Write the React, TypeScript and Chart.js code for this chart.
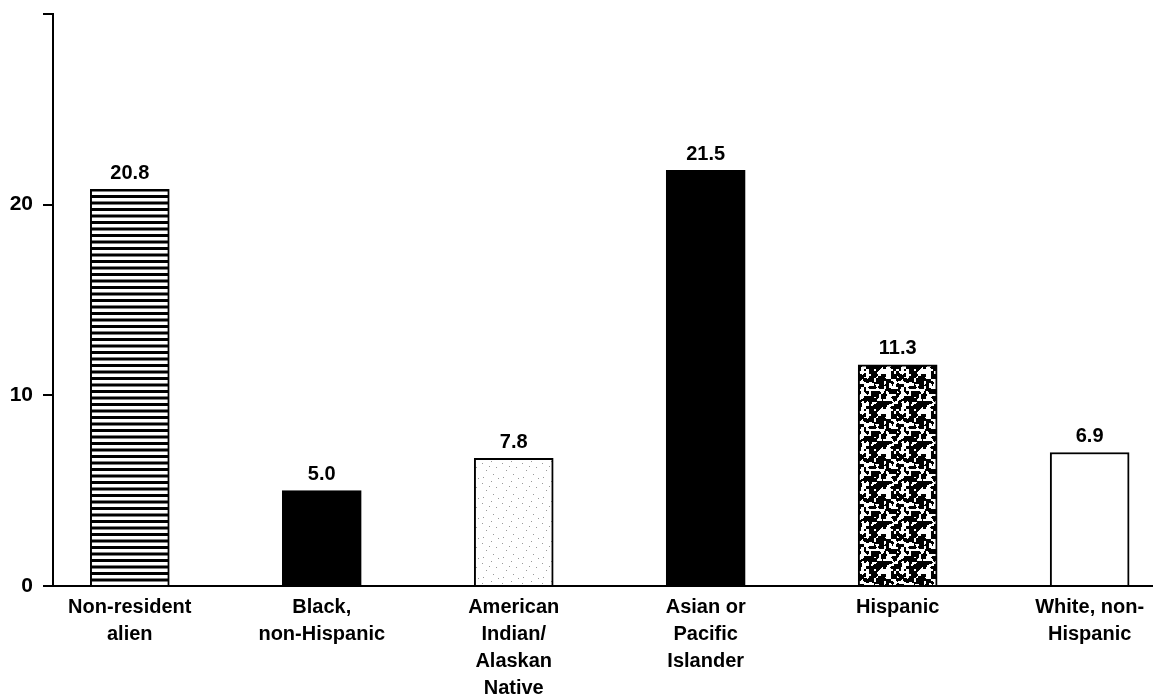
import React, { useEffect, useRef } from "react";
import { Chart, registerables } from "chart.js";

Chart.register(...registerables);

// Categories as printed under the bars (one entry per line)
const categoryLines: string[][] = [
  ["Non-resident", "alien"],
  ["Black,", "non-Hispanic"],
  ["American", "Indian/", "Alaskan", "Native"],
  ["Asian or", "Pacific", "Islander"],
  ["Hispanic"],
  ["White, non-", "Hispanic"],
];

// Bar heights as drawn in the picture
const barHeights: number[] = [20.8, 5.0, 6.7, 21.8, 11.6, 7.0];

// Value labels printed above the bars
const printedValues: string[] = ["20.8", "5.0", "7.8", "21.5", "11.3", "6.9"];

// Y axis ticks
const yTicks: number[] = [0, 10, 20, 30];
const yTickLabels: string[] = ["0", "10", "20", ""];

const FONT = "'Liberation Sans', Arial, Helvetica, sans-serif";

function makeTile(w: number, h: number, draw: (ctx: CanvasRenderingContext2D) => void): HTMLCanvasElement {
  const c = document.createElement("canvas");
  c.width = w;
  c.height = h;
  const ctx = c.getContext("2d")!;
  draw(ctx);
  return c;
}

function stripesPattern(ctx: CanvasRenderingContext2D): CanvasPattern {
  const tile = makeTile(8, 13, (t) => {
    t.fillStyle = "#ffffff";
    t.fillRect(0, 0, 8, 13);
    t.fillStyle = "#000000";
    t.fillRect(0, 0, 8, 3);
    t.fillRect(0, 6.5, 8, 3);
  });
  return ctx.createPattern(tile, "repeat")!;
}

function dotsPattern(ctx: CanvasRenderingContext2D): CanvasPattern {
  const tile = makeTile(20, 20, (t) => {
    t.fillStyle = "#ffffff";
    t.fillRect(0, 0, 20, 20);
    t.fillStyle = "#9a9a9a";
    const pts = [[2, 3], [11, 1], [16, 7], [6, 10], [13, 14], [3, 17], [18, 18], [9, 6]];
    pts.forEach(([x, y]) => t.fillRect(x, y, 1, 1));
  });
  return ctx.createPattern(tile, "repeat")!;
}

// deterministic integer hash -> [0,1)
function hash2(ix: number, iy: number): number {
  let h = (ix * 374761393 + iy * 668265263) | 0;
  h = (h ^ (h >>> 13)) | 0;
  h = Math.imul(h, 1274126177);
  h = h ^ (h >>> 16);
  return (h >>> 0) / 4294967296;
}

function specklePattern(ctx: CanvasRenderingContext2D): CanvasPattern {
  const size = 40;
  const cell = 2.5;
  const n = Math.round(size / cell);
  const grid = (gx: number, gy: number) => hash2(((gx % n) + n) % n, ((gy % n) + n) % n);
  const tile = makeTile(size, size, (t) => {
    const img = t.createImageData(size, size);
    for (let y = 0; y < size; y++) {
      for (let x = 0; x < size; x++) {
        const fx = (x + 0.5) / cell;
        const fy = (y + 0.5) / cell;
        const x0 = Math.floor(fx);
        const y0 = Math.floor(fy);
        const tx = fx - x0;
        const ty = fy - y0;
        const sx = tx * tx * (3 - 2 * tx);
        const sy = ty * ty * (3 - 2 * ty);
        const a = grid(x0, y0);
        const b = grid(x0 + 1, y0);
        const c2 = grid(x0, y0 + 1);
        const d = grid(x0 + 1, y0 + 1);
        const v = (a * (1 - sx) + b * sx) * (1 - sy) + (c2 * (1 - sx) + d * sx) * sy;
        const black = v > 0.4;
        const i = (y * size + x) * 4;
        const c = black ? 0 : 255;
        img.data[i] = c;
        img.data[i + 1] = c;
        img.data[i + 2] = c;
        img.data[i + 3] = 255;
      }
    }
    t.putImageData(img, 0, 0);
  });
  return ctx.createPattern(tile, "repeat")!;
}

const valueLabelPlugin = {
  id: "valueLabels",
  afterDatasetsDraw(chart: any) {
    const ctx = chart.ctx as CanvasRenderingContext2D;
    const meta = chart.getDatasetMeta(0);
    ctx.save();
    ctx.fillStyle = "#000";
    ctx.font = `bold 20px ${FONT}`;
    ctx.textAlign = "center";
    ctx.textBaseline = "middle";
    meta.data.forEach((el: any, i: number) => {
      ctx.fillText(printedValues[i], el.x, el.y - 16);
    });
    ctx.restore();
  },
};

export default function App() {
  const ref = useRef<HTMLCanvasElement>(null);

  useEffect(() => {
    document.body.style.margin = "0";
    const canvas = ref.current!;
    const ctx = canvas.getContext("2d")!;
    const fills: (string | CanvasPattern)[] = [
      stripesPattern(ctx),
      "#000000",
      dotsPattern(ctx),
      "#000000",
      specklePattern(ctx),
      "#ffffff",
    ];
    const chart = new Chart(canvas, {
      type: "bar",
      data: {
        datasets: [
          {
            data: barHeights.map((h, i) => ({ x: i, y: h })),
            backgroundColor: fills as any,
            borderColor: "#000000",
            borderWidth: 2,
            barThickness: 79,
          } as any,
        ],
      },
      options: {
        animation: false,
        responsive: false,
        devicePixelRatio: 1,
        layout: { padding: { top: 14, right: 0, left: 0, bottom: 0 } },
        plugins: { legend: { display: false }, tooltip: { enabled: false } },
        scales: {
          x: {
            type: "linear",
            min: -0.4,
            max: 5.33,
            offset: false,
            grid: { display: false, drawTicks: false, offset: false },
            border: { display: true, color: "#000", width: 2 },
            ticks: {
              stepSize: 1,
              includeBounds: false,
              autoSkip: false,
              maxRotation: 0,
              minRotation: 0,
              padding: 8,
              color: "#000",
              font: { family: FONT, size: 20, weight: "bold", lineHeight: 1.35 },
              callback: (v: any) => {
                const n = Number(v);
                return Number.isInteger(n) && categoryLines[n] ? categoryLines[n] : "";
              },
            },
            afterFit: (scale: any) => {
              scale.height = 110;
              scale.paddingLeft = 0;
              scale.paddingRight = 0;
            },
          } as any,
          y: {
            type: "linear",
            min: yTicks[0],
            max: yTicks[yTicks.length - 1],
            grid: {
              display: true,
              drawOnChartArea: false,
              drawTicks: true,
              tickLength: 10,
              color: "#000",
              lineWidth: 2,
            },
            border: { display: true, color: "#000", width: 2 },
            ticks: {
              stepSize: 10,
              padding: 10,
              color: "#000",
              font: { family: FONT, size: 21, weight: "bold" },
              callback: (v: any) => {
                const idx = yTicks.indexOf(Number(v));
                return idx >= 0 ? yTickLabels[idx] : "";
              },
            },
            afterFit: (scale: any) => {
              scale.width = 53;
              scale.paddingTop = 0;
              scale.paddingBottom = 0;
            },
          } as any,
        },
      },
      plugins: [valueLabelPlugin],
    });
    return () => chart.destroy();
  }, []);

  return (
    <div style={{ width: 1153, height: 696, background: "#fff" }}>
      <canvas ref={ref} width={1153} height={696} style={{ width: 1153, height: 696, display: "block" }} />
    </div>
  );
}
